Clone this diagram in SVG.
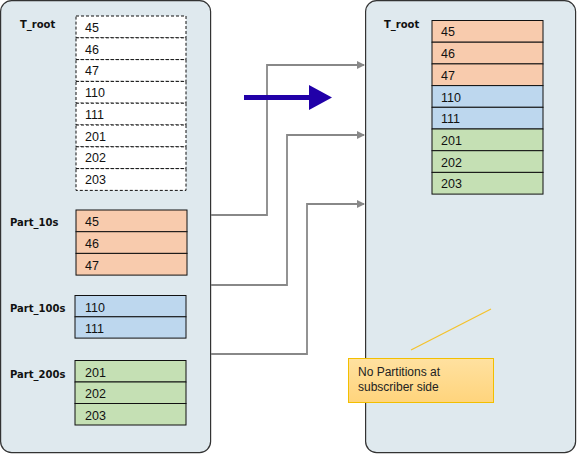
<svg xmlns="http://www.w3.org/2000/svg" width="577" height="454" viewBox="0 0 577 454">
<defs>
<style>
.panel{fill:#dfe9ee;stroke:#333;stroke-width:1.2}
.lbl{font-family:"DejaVu Sans",sans-serif;font-size:10px;font-weight:bold;fill:#111}
.num{font-family:"Liberation Sans",Arial,sans-serif;font-size:12.5px;fill:#111}
.dash{fill:#fff;stroke:#111;stroke-width:1;stroke-dasharray:3,2}
.org{fill:#f8cbad;stroke:#111;stroke-width:1}
.blu{fill:#bdd7ee;stroke:#111;stroke-width:1}
.grn{fill:#c5e0b4;stroke:#111;stroke-width:1}
.conn{fill:none;stroke:#888;stroke-width:1.8}
.note{font-family:"Liberation Sans",Arial,sans-serif;font-size:12px;fill:#222}
</style>
<marker id="ah" markerWidth="8" markerHeight="8" refX="7" refY="4" orient="auto" markerUnits="userSpaceOnUse">
<path d="M0,0 L8,4 L0,8 Z" fill="#888"/>
</marker>
<linearGradient id="ng" x1="0" y1="0" x2="0" y2="1">
<stop offset="0" stop-color="#ffe1a0"/>
<stop offset="1" stop-color="#ffd47c"/>
</linearGradient>
</defs>

<g id="publisher">
<rect class="panel" x="0.6" y="0.6" width="210" height="452" rx="11"/>
</g>
<g id="subscriber">
<rect class="panel" x="365.6" y="0.6" width="210" height="452" rx="11"/>
</g>

<g id="pub_troot">
<text class="lbl" x="20" y="28">T_root</text>
<rect class="dash" x="76" y="16" width="110" height="21.8"/>
<rect class="dash" x="76" y="37.8" width="110" height="21.8"/>
<rect class="dash" x="76" y="59.6" width="110" height="21.8"/>
<rect class="dash" x="76" y="81.4" width="110" height="21.8"/>
<rect class="dash" x="76" y="103.2" width="110" height="21.8"/>
<rect class="dash" x="76" y="125" width="110" height="21.8"/>
<rect class="dash" x="76" y="146.8" width="110" height="21.8"/>
<rect class="dash" x="76" y="168.6" width="110" height="21.8"/>
<text class="num" x="85" y="32">45</text>
<text class="num" x="85" y="54">46</text>
<text class="num" x="85" y="75">47</text>
<text class="num" x="85" y="97">110</text>
<text class="num" x="85" y="119">111</text>
<text class="num" x="85" y="141">201</text>
<text class="num" x="85" y="162">202</text>
<text class="num" x="85" y="184">203</text>
</g>

<g id="part_10s">
<text class="lbl" x="10" y="226">Part_10s</text>
<rect class="org" x="76" y="210" width="111" height="21.7"/>
<rect class="org" x="76" y="231.7" width="111" height="21.7"/>
<rect class="org" x="76" y="253.4" width="111" height="21.7"/>
<text class="num" x="85" y="226">45</text>
<text class="num" x="85" y="248">46</text>
<text class="num" x="85" y="270">47</text>
</g>

<g id="part_100s">
<text class="lbl" x="10" y="312">Part_100s</text>
<rect class="blu" x="75" y="295.5" width="111" height="21.3"/>
<rect class="blu" x="75" y="316.8" width="111" height="21.3"/>
<text class="num" x="85" y="312">110</text>
<text class="num" x="85" y="333">111</text>
</g>

<g id="part_200s">
<text class="lbl" x="10" y="378">Part_200s</text>
<rect class="grn" x="75" y="360.5" width="111" height="21.5"/>
<rect class="grn" x="75" y="382" width="111" height="21.5"/>
<rect class="grn" x="75" y="403.5" width="111" height="21.5"/>
<text class="num" x="85" y="377">201</text>
<text class="num" x="85" y="398">202</text>
<text class="num" x="85" y="420">203</text>
</g>

<g id="sub_troot">
<text class="lbl" x="384" y="28">T_root</text>
<rect class="org" x="432" y="20.5" width="111" height="21.7"/>
<rect class="org" x="432" y="42.2" width="111" height="21.7"/>
<rect class="org" x="432" y="63.9" width="111" height="21.7"/>
<rect class="blu" x="432" y="85.6" width="111" height="21.7"/>
<rect class="blu" x="432" y="107.3" width="111" height="21.7"/>
<rect class="grn" x="432" y="129" width="111" height="21.7"/>
<rect class="grn" x="432" y="150.7" width="111" height="21.7"/>
<rect class="grn" x="432" y="172.4" width="111" height="21.7"/>
<text class="num" x="441" y="36">45</text>
<text class="num" x="441" y="58">46</text>
<text class="num" x="441" y="80">47</text>
<text class="num" x="441" y="102">110</text>
<text class="num" x="441" y="123">111</text>
<text class="num" x="441" y="145">201</text>
<text class="num" x="441" y="167">202</text>
<text class="num" x="441" y="188">203</text>
</g>

<g id="connectors">
<polyline class="conn" points="211,215 267,215 267,65 364,65" marker-end="url(#ah)"/>
<polyline class="conn" points="211,285 287,285 287,135 364,135" marker-end="url(#ah)"/>
<polyline class="conn" points="211,354 307,354 307,204 364,204" marker-end="url(#ah)"/>
<path d="M244,95 L309,95 L309,85 L332,97.5 L309,110 L309,100 L244,100 Z" fill="#2100a8"/>
<line x1="411" y1="350" x2="491" y2="309" stroke="#f5c22a" stroke-width="1.2"/>
</g>

<g id="note">
<rect x="348.5" y="358.5" width="145" height="44" fill="url(#ng)" stroke="#f2bf00" stroke-width="1"/>
<text class="note" x="358" y="376">No Partitions at</text>
<text class="note" x="358" y="391">subscriber side</text>
</g>
</svg>
